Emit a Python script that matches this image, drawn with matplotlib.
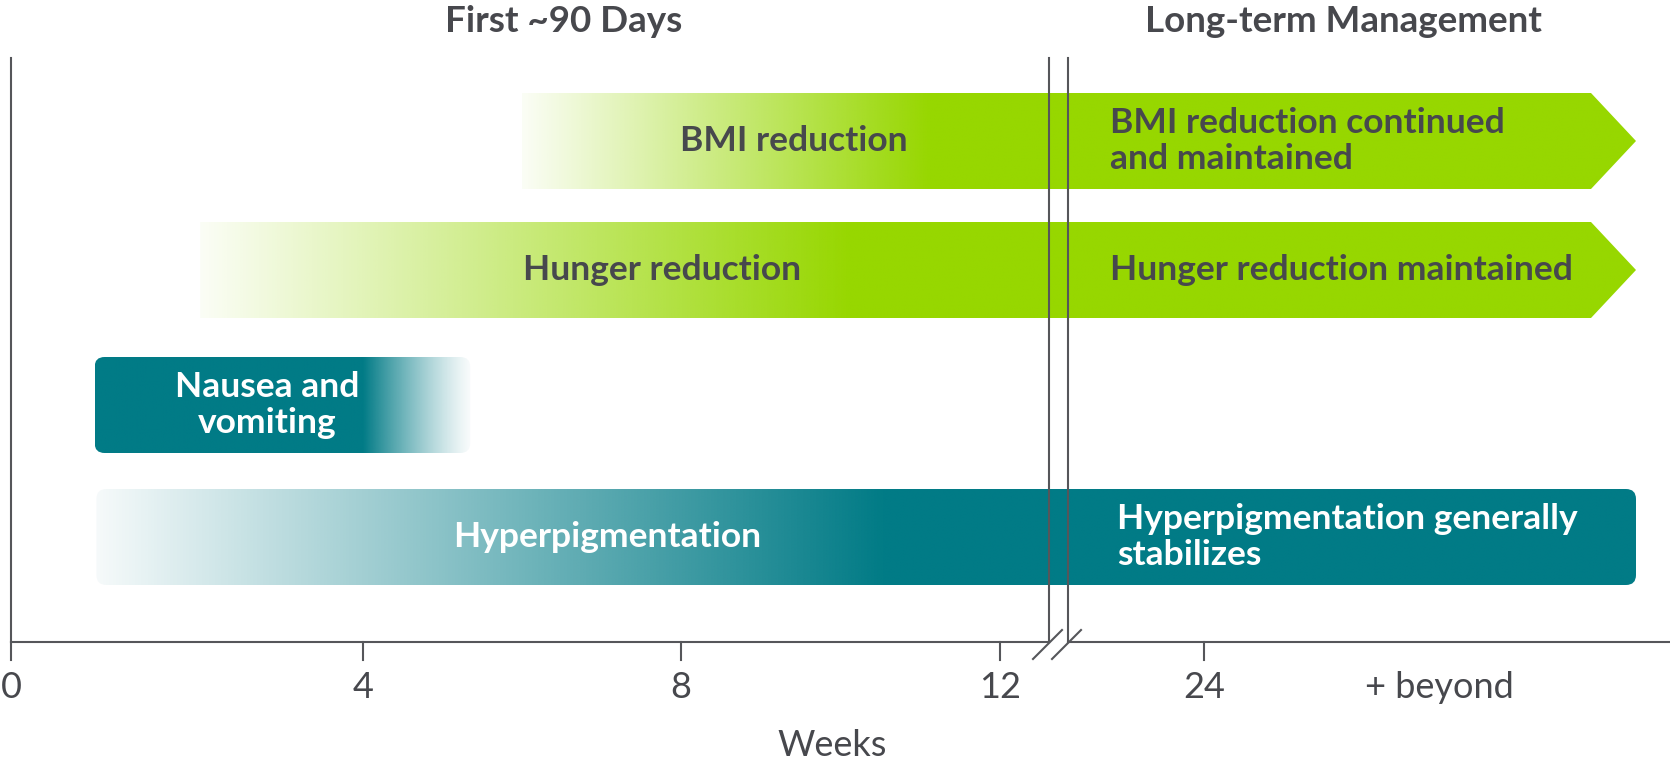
import numpy as np
import matplotlib.pyplot as plt
from matplotlib.patches import FancyBboxPatch, Polygon

plt.rcParams['font.family'] = ['Lato', 'DejaVu Sans']

# timeline data (weeks)
tick_weeks = [0, 4, 8, 12]
tick_labels_first = ['0', '4', '8', '12']
tick_labels_long = ['24', '+ beyond']
headers = ['First ~90 Days', 'Long-term Management']

phases = ['BMI reduction', 'Hunger reduction', 'Nausea and\nvomiting', 'Hyperpigmentation']
long_term_text = ['BMI reduction continued\nand maintained', 'Hunger reduction maintained',
                  None, 'Hyperpigmentation generally\nstabilizes']
start_week = [6.0, 2.15, 0.95, 0.97]
full_week = [11.1, 10.1, 4.0, 10.5]     # where the colour reaches full strength
fade_end_week = [None, None, 5.35, None]  # nausea fades out
continues = [True, True, False, True]

GREEN = '#97d700'
TEAL = '#017b86'
TEXT = '#47484d'
AXIS = '#55565a'
colors = [GREEN, GREEN, TEAL, TEAL]
shape = ['arrow', 'arrow', 'round', 'round']
text_color = [TEXT, TEXT, 'white', 'white']

# layout (pixels of the 1670x774 canvas)
W, H = 1670, 774
tick_x = [11, 363, 681, 1000]
long_tick_x = [1204, 1439]
break_x = [1049, 1068]
axis_y, axis_top = 642, 58
row_top = [93, 222, 357, 489]
bar_h = 96
rect_end, tip_end = 1591, 1636
label_x = [794, 662, 267, 607]
lt_label_x = [1110, 1110, None, 1117]


def wx(w):
    return np.interp(w, tick_weeks, tick_x)


fig = plt.figure(figsize=(W / 100, H / 100), dpi=100)
ax = fig.add_axes([0, 0, 1, 1])
ax.set_xlim(0, W)
ax.set_ylim(H, 0)
ax.axis('off')

for i, name in enumerate(phases):
    x0 = wx(start_week[i])
    y0 = row_top[i]
    y1 = y0 + bar_h
    if continues[i]:
        x1 = tip_end
    else:
        x1 = wx(fade_end_week[i])

    if shape[i] == 'arrow':
        patch = Polygon([(x0, y0), (rect_end, y0), (tip_end, (y0 + y1) / 2),
                         (rect_end, y1), (x0, y1)], closed=True,
                        facecolor='none', edgecolor='none')
    else:
        patch = FancyBboxPatch((x0, y0), x1 - x0, bar_h,
                               boxstyle='round,pad=0,rounding_size=10',
                               facecolor='none', edgecolor='none')
    ax.add_patch(patch)

    xs = np.linspace(x0, x1, 600)
    if fade_end_week[i] is None:
        alpha = np.interp(xs, [x0, wx(full_week[i])], [0.04, 1.0])
    else:
        alpha = np.interp(xs, [x0, wx(full_week[i]), x1], [1.0, 1.0, 0.06])
        alpha = alpha ** 1.3
    rgb = np.array(plt.matplotlib.colors.to_rgb(colors[i]))
    img = np.ones((2, len(xs), 4))
    img[..., :3] = rgb
    img[..., 3] = alpha
    im = ax.imshow(img, extent=[x0, x1, y1, y0], aspect='auto',
                   interpolation='bilinear', zorder=2)
    im.set_clip_path(patch)

    ax.text(label_x[i], (y0 + y1) / 2, name, ha='center', va='center',
            fontsize=25.5, fontweight='bold', color=text_color[i],
            linespacing=1.15, zorder=4)
    if long_term_text[i]:
        ax.text(lt_label_x[i], (y0 + y1) / 2, long_term_text[i], ha='left',
                va='center', fontsize=25.5, fontweight='bold',
                color=text_color[i], linespacing=1.15, zorder=4)

# axes lines
lw = 1.5
ax.plot([tick_x[0], tick_x[0]], [axis_top, axis_y], color=AXIS, lw=lw, zorder=3)
ax.plot([tick_x[0], break_x[0]], [axis_y, axis_y], color=AXIS, lw=lw, zorder=3)
ax.plot([break_x[1], W], [axis_y, axis_y], color=AXIS, lw=lw, zorder=3)
for bx in break_x:
    ax.plot([bx, bx], [axis_top, axis_y], color=AXIS, lw=lw, zorder=3)
    ax.plot([bx - 16, bx + 13], [axis_y + 17, axis_y - 12], color=AXIS, lw=lw, zorder=3)

for x, lab in zip(tick_x, tick_labels_first):
    ax.plot([x, x], [axis_y, axis_y + 18], color=AXIS, lw=lw, zorder=3)
    ax.text(x, axis_y + 45, lab, ha='center', va='center', fontsize=26,
            fontweight='normal', color=TEXT)
ax.plot([long_tick_x[0]] * 2, [axis_y, axis_y + 18], color=AXIS, lw=lw, zorder=3)
for x, lab in zip(long_tick_x, tick_labels_long):
    ax.text(x, axis_y + 45, lab, ha='center', va='center', fontsize=26,
            fontweight='normal', color=TEXT)

ax.text(832, 745, 'Weeks', ha='center', va='center', fontsize=26,
        fontweight='normal', color=TEXT)
ax.text(564, 22, headers[0], ha='center', va='center', fontsize=26.5,
        fontweight='bold', color=TEXT)
ax.text(1343, 22, headers[1], ha='center', va='center', fontsize=26.5,
        fontweight='bold', color=TEXT)

fig.savefig('out.png', dpi=100)
